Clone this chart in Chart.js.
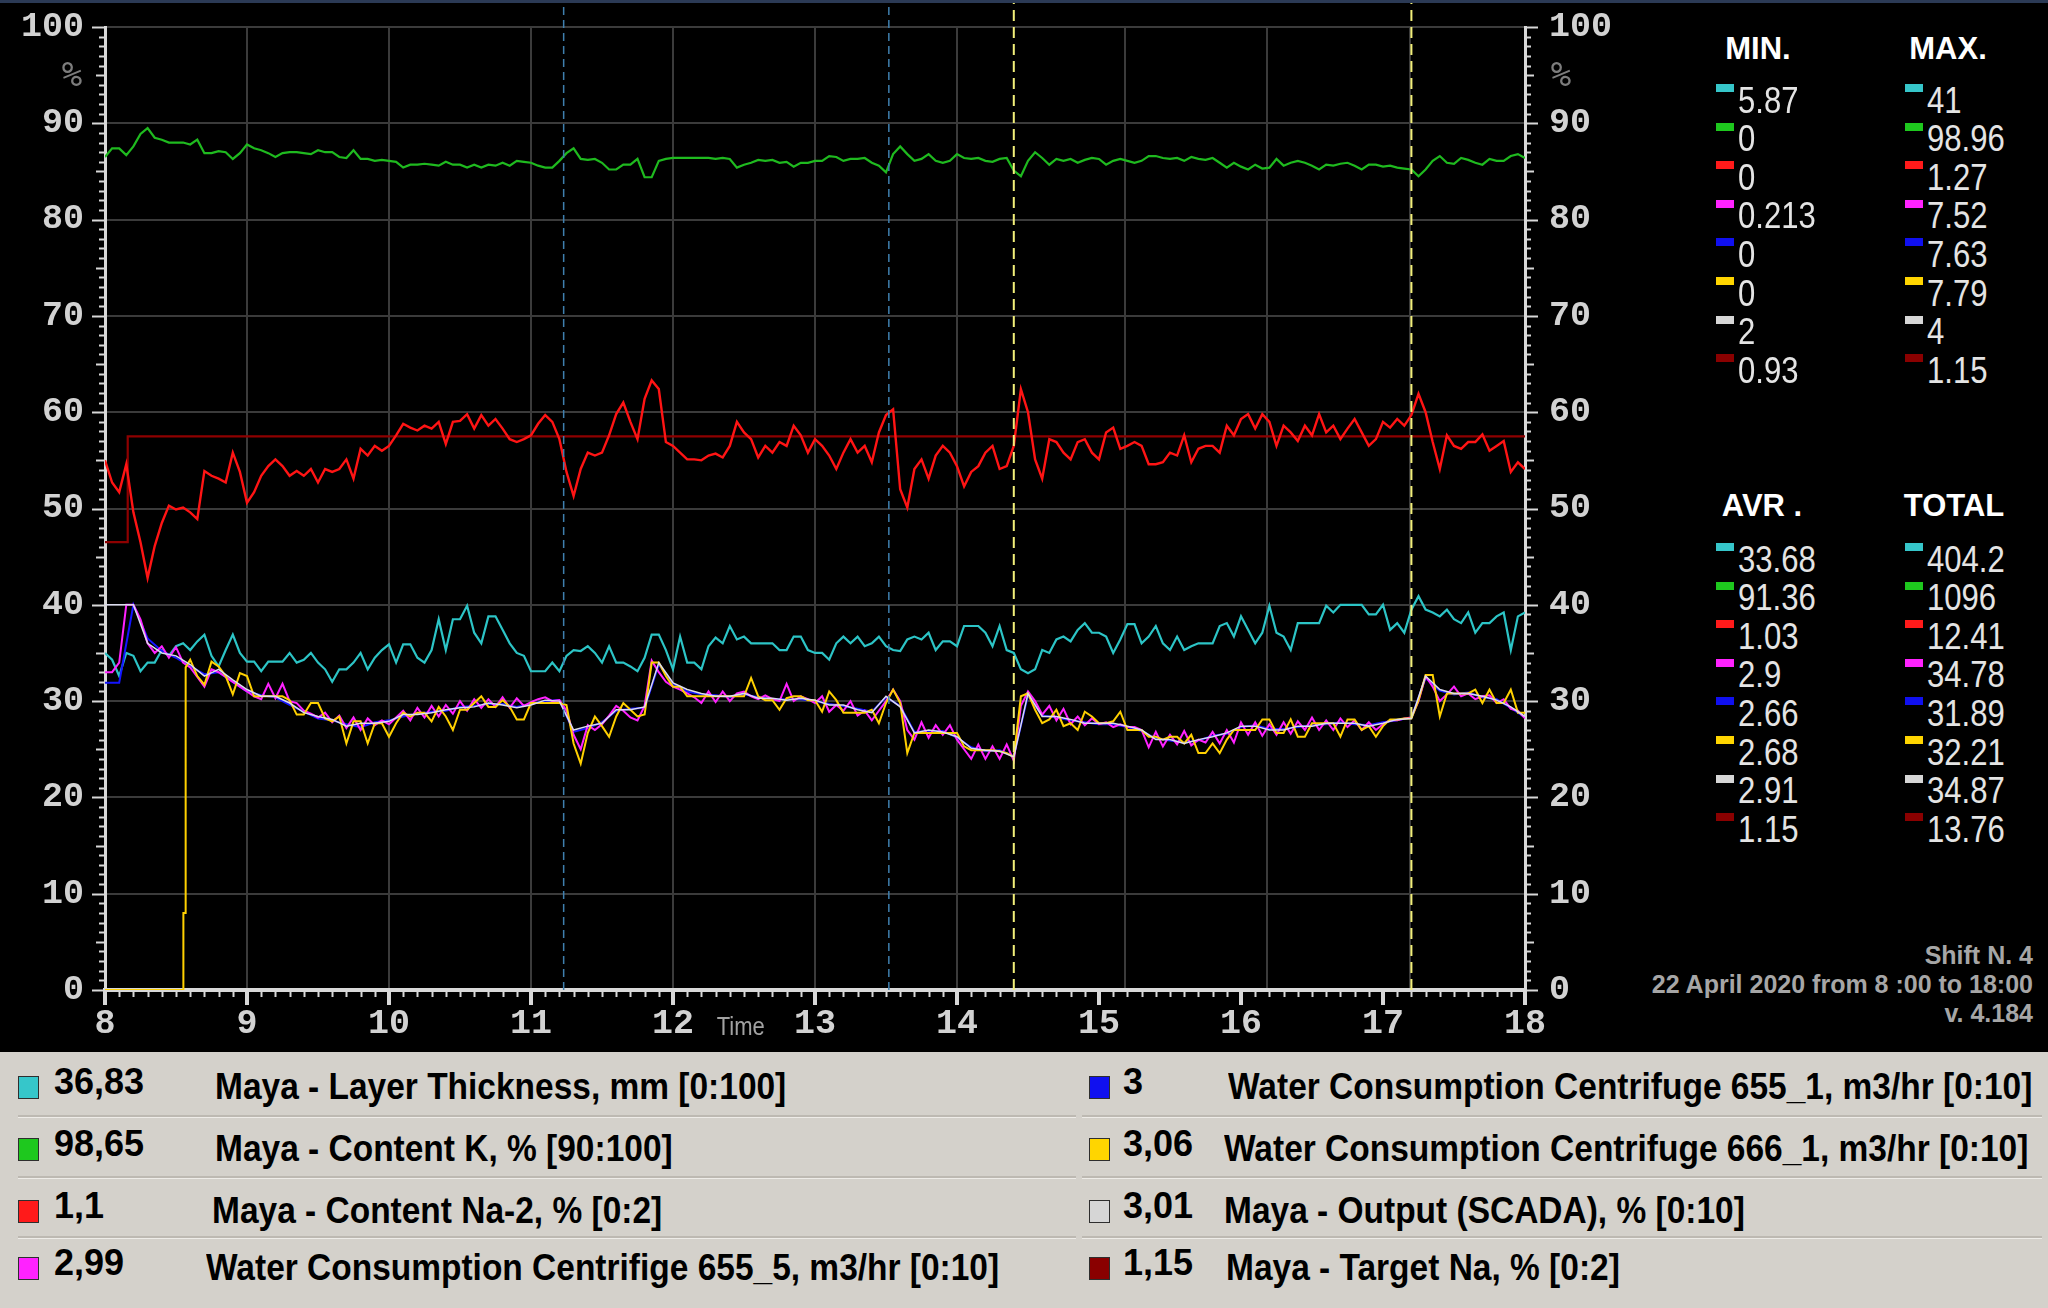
<!DOCTYPE html>
<html>
<head>
<meta charset="utf-8">
<title>Maya - Shift N. 4 trend</title>
<script src="https://cdn.jsdelivr.net/npm/chart.js@4.4.1/dist/chart.umd.min.js"></script>
<style>
	html, body { margin: 0; padding: 0; background: #000; }
	#page { position: relative; width: 2048px; height: 1308px; overflow: hidden; background: #000; font-family: 'Liberation Sans', Arial, sans-serif; }
	#topline { position: absolute; left: 0; top: 0; width: 2048px; height: 3px; background: #2b3a55; }
	#trend { position: absolute; left: 0; top: 0; }
	#legend { position: absolute; left: 0; top: 1052px; width: 2048px; height: 256px; background: #d4d1cb; }
	.txt { position: absolute; white-space: nowrap; line-height: 1; }
	.box { position: absolute; box-sizing: border-box; }
	.sep { position: absolute; height: 2px; background: #bdb9b2; border-bottom: 1px solid #eeece8; }
</style>
</head>
<body>
<div id="page">
	<canvas id="trend" width="1640" height="1052"></canvas>
	<div id="topline"></div>
	<div id="legend"></div>
</div>
<script>
// Series order: layer, K, Na-2, 655_5, 655_1, 666_1, output, target Na
const seriesLabels = [
	'Maya - Layer Thickness, mm [0:100]',
	'Maya - Content K, % [90:100]',
	'Maya - Content Na-2, % [0:2]',
	'Water Consumption Centrifige 655_5, m3/hr [0:10]',
	'Water Consumption Centrifuge 655_1, m3/hr [0:10]',
	'Water Consumption Centrifuge 666_1, m3/hr [0:10]',
	'Maya - Output (SCADA), % [0:10]',
	'Maya - Target Na, % [0:2]'
];
const currentValues = ['36,83', '98,65', '1,1', '2,99', '3', '3,06', '3,01', '1,15'];
const statsMin = ['5.87', '0', '0', '0.213', '0', '0', '2', '0.93'];
const statsMax = ['41', '98.96', '1.27', '7.52', '7.63', '7.79', '4', '1.15'];
const statsAvr = ['33.68', '91.36', '1.03', '2.9', '2.66', '2.68', '2.91', '1.15'];
const statsTotal = ['404.2', '1096', '12.41', '34.78', '31.89', '32.21', '34.87', '13.76'];

const hourTicks = [8, 9, 10, 11, 12, 13, 14, 15, 16, 17, 18];
const gridHours = [9, 10, 11, 12, 13, 14, 15.18, 16.18, 17.19];
const markerHours = [11.23, 13.52, 14.4, 17.2];

// samples every 3 minutes (0.05 h), 8:00 .. 18:00
const hours = Array.from({ length: 201 }, (_, i) => +(8 + i * 0.05).toFixed(2));
// samples every 6 minutes (0.1 h)
const hoursCoarse = Array.from({ length: 101 }, (_, i) => +(8 + i * 0.1).toFixed(1));

const layerThickness = [
	35.0, 34.3, 32.6, 35.0, 34.7, 33.1, 34.0, 34.0, 35.3, 34.7, 35.7, 36.0, 35.3, 36.2, 36.9, 34.7, 33.6, 35.3, 36.9, 35.0,
	34.1, 34.1, 33.1, 34.1, 34.1, 34.1, 35.0, 34.0, 34.3, 35.0, 34.0, 33.3, 32.0, 33.3, 33.3, 34.0, 35.0, 33.3, 34.5, 35.3,
	35.9, 34.0, 35.9, 35.9, 34.5, 34.0, 35.3, 38.5, 35.3, 38.5, 38.5, 39.9, 37.1, 36.0, 38.8, 38.8, 37.4, 36.0, 35.0, 34.7,
	33.1, 33.1, 33.1, 34.0, 33.1, 34.7, 35.3, 35.2, 35.7, 35.0, 34.0, 35.7, 34.0, 34.0, 33.6, 33.1, 34.5, 36.9, 36.9, 35.3,
	33.3, 36.7, 34.0, 34.0, 33.3, 35.7, 36.6, 36.0, 37.8, 36.4, 36.7, 36.0, 36.0, 36.0, 36.0, 35.3, 35.3, 36.7, 36.7, 35.3,
	35.0, 35.0, 34.3, 36.0, 36.7, 36.0, 36.7, 35.7, 36.0, 36.7, 35.7, 35.3, 35.2, 36.4, 36.7, 36.4, 37.1, 35.3, 36.2, 36.2,
	35.7, 37.8, 37.8, 37.8, 37.1, 35.7, 37.8, 35.3, 35.0, 33.3, 32.9, 33.3, 35.3, 35.0, 36.4, 36.7, 36.2, 37.4, 38.1, 37.1,
	37.1, 36.7, 35.0, 36.4, 38.0, 38.0, 36.0, 36.7, 37.8, 36.0, 35.3, 36.7, 35.3, 35.7, 36.0, 36.0, 36.0, 37.8, 38.1, 36.7,
	38.8, 37.4, 36.0, 37.1, 39.9, 37.1, 36.7, 35.3, 38.1, 38.1, 38.1, 38.1, 39.9, 39.2, 40.0, 40.0, 40.0, 40.0, 39.0, 39.0,
	40.0, 37.4, 38.1, 37.1, 39.5, 40.9, 39.5, 39.2, 38.8, 39.5, 38.5, 38.1, 39.2, 37.1, 38.1, 38.1, 38.8, 39.2, 35.3, 38.8,
	39.2
];

const contentK = [
	86.5, 87.4, 87.4, 86.7, 87.6, 88.9, 89.5, 88.5, 88.3, 88.0, 88.0, 88.0, 87.8, 88.3, 86.9, 86.9, 87.1, 87.0, 86.3, 86.9,
	87.8, 87.4, 87.2, 86.9, 86.5, 86.9, 87.0, 87.0, 86.9, 86.8, 87.2, 87.0, 87.0, 86.5, 86.4, 87.2, 86.3, 86.3, 86.1, 86.2,
	86.1, 86.0, 85.4, 85.7, 85.7, 85.8, 85.7, 85.6, 86.0, 85.7, 85.7, 85.4, 85.7, 85.4, 85.7, 85.6, 85.9, 85.6, 86.1, 86.0,
	85.9, 85.6, 85.4, 85.4, 86.1, 86.9, 87.4, 86.3, 86.2, 86.3, 85.9, 85.2, 85.2, 85.7, 85.7, 86.3, 84.4, 84.4, 86.1, 86.3,
	86.4, 86.4, 86.4, 86.4, 86.4, 86.4, 86.3, 86.4, 86.3, 85.4, 85.7, 85.9, 86.2, 86.1, 86.2, 85.9, 86.0, 85.5, 85.9, 85.9,
	86.1, 86.1, 86.6, 86.5, 86.1, 86.3, 86.3, 86.4, 85.9, 85.6, 84.9, 86.8, 87.6, 86.8, 86.1, 86.3, 86.8, 86.1, 85.9, 86.1,
	86.8, 86.4, 86.3, 86.4, 86.1, 86.0, 86.3, 86.4, 85.1, 84.5, 86.1, 87.0, 86.4, 85.7, 86.3, 86.1, 86.3, 85.9, 86.2, 86.4,
	86.3, 85.7, 86.1, 86.3, 86.1, 85.9, 86.1, 86.6, 86.6, 86.4, 86.3, 86.4, 86.1, 86.5, 86.3, 86.2, 86.4, 85.9, 85.4, 85.9,
	85.5, 85.2, 85.7, 85.3, 85.4, 86.3, 85.6, 85.9, 86.1, 85.9, 85.6, 85.2, 85.7, 85.6, 85.8, 85.9, 85.6, 85.2, 85.7, 85.7,
	85.5, 85.6, 85.4, 85.3, 85.2, 84.5, 85.2, 86.1, 86.6, 85.9, 85.8, 86.4, 86.2, 85.9, 85.7, 86.3, 86.1, 86.1, 86.6, 86.8,
	86.4
];

const contentNa = [
	55.0, 52.7, 51.7, 54.6, 49.6, 46.5, 42.8, 46.1, 48.5, 50.3, 49.9, 50.1, 49.6, 48.9, 53.9, 53.4, 53.1, 52.7, 55.8, 53.8,
	50.6, 51.7, 53.4, 54.4, 55.1, 54.4, 53.4, 53.9, 53.4, 54.1, 52.7, 54.1, 53.8, 54.1, 55.1, 53.1, 56.2, 55.5, 56.5, 56.0,
	56.5, 57.6, 58.8, 58.4, 58.1, 58.6, 58.3, 59.0, 56.7, 59.0, 59.1, 59.8, 58.3, 59.7, 58.6, 59.3, 58.3, 57.2, 56.9, 57.2,
	57.6, 58.8, 59.7, 59.0, 57.2, 53.8, 51.3, 54.1, 55.8, 55.5, 55.8, 57.6, 59.8, 61.0, 59.0, 57.2, 61.4, 63.3, 62.4, 56.9,
	56.5, 55.8, 55.1, 55.1, 55.0, 55.5, 55.7, 55.3, 56.5, 59.0, 57.9, 57.2, 55.3, 56.5, 55.8, 56.9, 56.5, 58.6, 57.6, 55.8,
	57.2, 56.5, 55.5, 54.1, 55.8, 57.2, 55.8, 56.5, 54.8, 57.9, 59.7, 60.3, 52.0, 50.1, 54.1, 55.1, 53.1, 55.5, 56.5, 55.8,
	54.4, 52.3, 53.8, 54.4, 55.8, 56.5, 54.1, 54.4, 56.5, 62.4, 60.0, 55.1, 53.1, 57.2, 56.9, 55.8, 55.1, 56.9, 57.2, 55.8,
	55.1, 57.9, 58.4, 56.2, 56.5, 56.9, 56.5, 54.6, 54.6, 54.8, 55.8, 55.5, 57.6, 54.8, 56.2, 56.5, 56.5, 55.8, 58.6, 57.6,
	59.3, 59.8, 58.3, 59.8, 59.0, 56.5, 58.6, 57.9, 57.0, 58.6, 57.6, 59.8, 57.9, 58.6, 57.2, 58.3, 59.3, 57.9, 56.5, 57.2,
	59.0, 58.4, 59.3, 58.6, 59.7, 61.9, 60.0, 56.9, 54.1, 57.6, 56.5, 56.2, 56.9, 56.9, 57.7, 56.0, 56.5, 57.0, 53.8, 54.8,
	54.1
];

const water6555 = [
	33.0, 33.0, 34.0, 40.0, 40.0, 38.5, 36.0, 35.0, 35.7, 34.5, 35.6, 34.0, 33.5, 32.5, 31.5, 33.3, 33.0, 32.5, 32.0, 31.5,
	31.0, 30.5, 30.2, 31.8, 30.3, 31.8, 30.0, 29.8, 29.0, 28.7, 28.3, 28.8, 27.8, 28.5, 27.2, 28.3, 27.0, 28.2, 27.5, 28.0,
	27.6, 28.3, 29.0, 28.0, 29.3, 28.3, 29.5, 28.4, 29.6, 28.7, 30.0, 29.0, 30.2, 29.3, 30.2, 29.4, 30.4, 29.3, 30.3, 29.5,
	29.9, 30.2, 30.4, 30.0, 30.1, 29.0, 26.5, 25.0, 27.5, 27.0, 27.6, 28.5, 29.5, 29.0, 28.3, 28.0, 29.5, 34.2, 33.0, 32.0,
	31.5, 31.2, 30.8, 30.4, 29.8, 31.0, 29.9, 31.0, 30.0, 30.8, 31.0, 30.5, 30.2, 30.6, 30.2, 30.0, 31.8, 30.0, 30.5, 30.2,
	29.8, 30.5, 28.9, 29.6, 29.0, 30.0, 28.5, 29.0, 28.0, 29.0, 30.0, 31.2, 30.0, 27.0, 26.0, 27.8, 26.2, 27.5, 26.5, 27.5,
	26.0, 25.0, 24.0, 25.5, 24.0, 25.3, 24.0, 25.5, 23.8, 29.5, 31.0, 30.0, 28.6, 29.5, 28.0, 29.2, 27.6, 28.4, 27.5, 28.2,
	27.6, 27.8, 27.3, 27.6, 27.3, 27.3, 27.0, 25.2, 26.8, 25.3, 26.5, 25.5, 26.9, 25.4, 26.0, 25.7, 26.8, 25.6, 27.0, 25.7,
	27.8, 26.5, 27.8, 26.4, 27.6, 26.5, 27.8, 26.6, 27.9, 27.0, 28.3, 27.0, 28.0, 27.0, 28.2, 27.3, 28.0, 27.0, 27.8, 27.0,
	27.6, 28.0, 28.0, 28.2, 28.3, 30.0, 32.6, 31.5, 30.0, 30.7, 31.5, 30.5, 30.8, 30.2, 30.5, 30.6, 29.8, 30.2, 29.2, 29.0,
	28.2
];

// 8:33 gap (null) is filled by the start-up jump below
const water6661 = [
	0, 0, 0, 0, 0, 0, 0, 0, 0, 0, 0, null, 34.3, 32.6, 31.7, 34.1, 33.6, 32.6, 30.7, 32.9,
	32.6, 30.5, 30.5, 30.5, 30.5, 30.5, 30.1, 28.6, 28.6, 29.8, 29.8, 28.2, 27.9, 28.4, 25.6, 27.9, 27.9, 25.6, 27.7, 27.7,
	26.3, 27.7, 28.8, 28.4, 28.8, 28.8, 27.9, 29.4, 28.4, 27.0, 29.1, 29.1, 29.8, 30.5, 29.4, 29.4, 30.1, 29.4, 28.1, 28.1,
	29.8, 29.8, 29.8, 29.8, 29.8, 29.6, 25.6, 23.5, 26.7, 28.4, 27.4, 26.3, 28.4, 29.8, 29.1, 28.4, 28.6, 34.0, 34.0, 32.6,
	31.5, 31.5, 30.5, 30.5, 30.5, 30.5, 30.5, 30.5, 30.5, 30.5, 30.5, 32.4, 30.5, 30.1, 30.1, 29.1, 30.3, 30.5, 30.5, 30.1,
	30.1, 28.9, 31.0, 30.1, 28.8, 28.8, 28.8, 28.8, 29.1, 27.7, 29.8, 31.2, 29.8, 24.6, 26.7, 26.7, 26.7, 26.7, 26.7, 26.7,
	26.7, 25.3, 24.9, 24.9, 24.9, 24.9, 24.8, 24.6, 24.2, 30.5, 30.8, 29.1, 27.7, 28.1, 29.1, 27.4, 27.7, 27.0, 28.9, 28.4,
	27.7, 27.7, 27.9, 28.9, 27.0, 27.0, 27.0, 26.3, 26.3, 26.0, 26.3, 26.3, 25.6, 26.5, 24.6, 24.6, 25.6, 24.6, 26.0, 27.0,
	27.0, 27.0, 27.0, 28.1, 28.1, 26.7, 26.7, 28.1, 26.3, 26.3, 27.7, 27.7, 27.7, 27.7, 26.3, 28.1, 28.1, 27.0, 27.4, 26.3,
	27.4, 28.1, 28.1, 28.2, 28.2, 30.1, 32.7, 32.7, 28.4, 30.8, 30.8, 30.8, 30.8, 31.2, 29.8, 31.2, 29.8, 29.8, 31.2, 28.8,
	28.8
];
const water6661JumpHours = [8.55, 8.552, 8.566, 8.568];
const water6661JumpValues = [0, 8, 8, 33.5];

const water6551 = [
	31.9, 31.9, 40.0, 36.5, 35.2, 34.5, 33.6, 32.8, 33.0, 32.0,
	31.0, 30.6, 30.4, 29.6, 28.9, 28.2, 28.0, 27.6, 27.3, 27.8,
	28.0, 28.4, 28.7, 28.9, 29.0, 29.4, 29.5, 29.7, 29.7, 29.4,
	29.7, 30.0, 30.1, 26.8, 27.2, 27.8, 29.0, 29.2, 29.3, 33.8,
	31.8, 31.0, 30.7, 30.6, 30.4, 30.7, 30.4, 30.2, 30.2, 30.2,
	30.0, 29.7, 29.5, 29.2, 28.9, 30.4, 29.5, 26.8, 26.9, 26.9,
	26.2, 25.2, 24.8, 24.9, 24.3, 30.6, 28.5, 28.3, 28.0, 27.8,
	27.6, 27.6, 27.3, 26.9, 26.1, 25.9, 25.7, 25.9, 26.4, 26.6,
	27.3, 27.5, 27.1, 27.1, 27.3, 27.5, 27.6, 27.8, 27.6, 27.5,
	27.8, 28.0, 28.3, 32.4, 31.1, 30.7, 30.9, 30.4, 30.2, 29.3,
	28.3
];

const outputScada = [
	40.0, 40.0, 40.0, 36.0, 35.0, 34.7, 33.8, 32.6, 33.3, 32.2,
	31.2, 30.5, 30.5, 29.8, 28.8, 28.4, 28.1, 27.4, 27.7, 27.7,
	27.9, 28.6, 28.6, 28.8, 29.1, 29.3, 29.4, 29.8, 29.6, 29.3,
	29.6, 30.1, 30.0, 27.0, 27.4, 27.7, 29.1, 29.1, 29.4, 34.0,
	31.9, 31.2, 30.8, 30.5, 30.5, 30.8, 30.3, 30.3, 30.1, 30.3,
	30.1, 29.6, 29.6, 29.1, 28.8, 30.5, 29.4, 26.7, 27.0, 26.8,
	26.3, 25.1, 24.9, 24.8, 24.2, 30.8, 28.4, 28.4, 28.1, 27.7,
	27.7, 27.7, 27.4, 27.0, 26.0, 26.0, 25.6, 26.0, 26.3, 26.7,
	27.4, 27.4, 27.0, 27.0, 27.4, 27.4, 27.7, 27.7, 27.7, 27.4,
	27.7, 28.1, 28.2, 32.6, 31.2, 30.8, 30.8, 30.5, 30.1, 29.4,
	28.4
];

const targetNaHours = [8.0, 8.16, 18.0];
const targetNa = [46.5, 57.5, 57.5];

// ---- styles ----
const seriesColors = ['#2cc4c6', '#1fba1f', '#ff1414', '#ff22ff', '#1414ff', '#ffd000', '#dcdcee', '#8e0000'];
const legendSwatch = ['#36c6ca', '#1ec81e', '#ff1a1a', '#ff22ff', '#1010f0', '#ffd500', '#d6d6d6', '#8a0000'];
const markerColors = ['#3f7fae', '#3f7fae', '#f2ef7a', '#f2ef7a'];

function toPoints(xs, ys) {
	return xs.map((x, i) => ({ x, y: ys[i] })).filter((p) => p.y !== null);
}

const tickFont = { family: "'Liberation Mono', 'DejaVu Sans Mono', monospace", weight: 'bold', size: 35 };
const tickColor = '#d2d2d2';

// event markers run from the axis up to the top edge of the panel
const markerSets = markerHours.map((h, i) => ({
	data: [{ x: h, y: 0 }, { x: h, y: 102.5 }],
	borderColor: markerColors[i],
	borderWidth: i < 2 ? 1.5 : 2,
	borderDash: i < 2 ? [8, 5] : [11, 6],
	clip: false
}));

const lineSet = (data, color, width, extra) => Object.assign({
	data,
	borderColor: color,
	borderWidth: width
}, extra || {});

const water6661Points = toPoints(hours, water6661)
	.concat(toPoints(water6661JumpHours, water6661JumpValues))
	.sort((a, b) => a.x - b.x);

// first dataset is drawn on top
const datasets = markerSets.concat([
	lineSet(toPoints(hoursCoarse, outputScada), seriesColors[6], 1.5),
	lineSet(water6661Points, seriesColors[5], 2),
	lineSet(toPoints(hours, water6555), seriesColors[3], 2),
	lineSet(toPoints(hoursCoarse, water6551), seriesColors[4], 2),
	lineSet(toPoints(hours, layerThickness), seriesColors[0], 2.2),
	lineSet(toPoints(hours, contentK), seriesColors[1], 2.2),
	lineSet(toPoints(hours, contentNa), seriesColors[2], 2.4),
	lineSet(toPoints(targetNaHours, targetNa), seriesColors[7], 2.2, { stepped: true })
]);

// ruler ticks along the axes
const rulerTicks = {
	id: 'rulerTicks',
	afterDraw(chart) {
		const { ctx, scales: { x, y } } = chart;
		ctx.save();
		ctx.strokeStyle = '#d8d8d8';
		ctx.lineWidth = 2;
		ctx.beginPath();
		for (let v = 0; v <= 100; v++) {
			const py = Math.round(y.getPixelForValue(v)) + 0.5;
			const len = v % 10 === 0 ? 12 : (v % 5 === 0 ? 8 : 5);
			ctx.moveTo(x.left - 1, py);
			ctx.lineTo(x.left - 1 - len, py);
			ctx.moveTo(x.right + 1, py);
			ctx.lineTo(x.right + 1 + len, py);
		}
		for (let i = 0; i <= 100; i++) {
			const px = Math.round(x.getPixelForValue(8 + i / 10)) + 0.5;
			const len = i % 10 === 0 ? 14 : 6;
			ctx.moveTo(px, y.bottom + 1);
			ctx.lineTo(px, y.bottom + 1 + len);
		}
		ctx.stroke();
		ctx.lineWidth = 4;
		ctx.beginPath();
		hourTicks.forEach((h) => {
			const px = x.getPixelForValue(h);
			ctx.moveTo(px, y.bottom);
			ctx.lineTo(px, y.bottom + 15);
		});
		ctx.stroke();
		ctx.restore();
	}
};

// vertical axes keep a fixed width and add no label overhang to the layout
const fixVertical = (width) => (scale) => {
	scale.width = width;
	scale.paddingTop = 0;
	scale.paddingBottom = 0;
};

new Chart(document.getElementById('trend').getContext('2d'), {
	type: 'line',
	data: { datasets },
	options: {
		responsive: false,
		animation: false,
		devicePixelRatio: 1,
		layout: { padding: { top: 27, left: 0, right: 0, bottom: 0 } },
		elements: {
			point: { radius: 0, hoverRadius: 0 },
			line: { tension: 0, fill: false }
		},
		plugins: {
			legend: { display: false },
			tooltip: { enabled: false }
		},
		scales: {
			x: {
				type: 'linear',
				min: 8,
				max: 18,
				position: 'bottom',
				afterBuildTicks(scale) { scale.ticks = hourTicks.map((v) => ({ value: v })); },
				ticks: { color: tickColor, font: tickFont, padding: 13, maxRotation: 0, autoSkip: false, callback: (v) => String(v) },
				grid: { display: false, drawTicks: false },
				border: { display: true, color: '#d8d8d8', width: 4 },
				afterFit(scale) {
					scale.height = 62;
					scale.paddingLeft = 0;
					scale.paddingRight = 0;
				}
			},
			xGrid: {
				type: 'linear',
				min: 8,
				max: 18,
				position: 'bottom',
				afterBuildTicks(scale) { scale.ticks = gridHours.map((v) => ({ value: v })); },
				ticks: { display: false },
				grid: { color: '#3b3b3b', lineWidth: 2, drawTicks: false },
				border: { display: false },
				afterFit(scale) { scale.height = 0; }
			},
			y: {
				min: 0,
				max: 100,
				position: 'left',
				ticks: { stepSize: 10, color: tickColor, font: tickFont, padding: 21 },
				grid: { color: '#3b3b3b', lineWidth: 2, drawTicks: false },
				border: { display: true, color: '#d8d8d8', width: 3 },
				afterFit: fixVertical(105)
			},
			y2: {
				min: 0,
				max: 100,
				position: 'right',
				ticks: { stepSize: 10, color: tickColor, font: tickFont, padding: 24 },
				grid: { display: false, drawTicks: false },
				border: { display: true, color: '#d8d8d8', width: 3 },
				afterFit: fixVertical(115)
			}
		}
	},
	plugins: [rulerTicks]
});

// ---- HTML text panels ----
const page = document.getElementById('page');
const legend = document.getElementById('legend');

function addText(parent, text, x, yc, o) {
	const el = document.createElement('div');
	el.className = 'txt';
	el.textContent = text;
	el.style.fontSize = o.size + 'px';
	el.style.fontWeight = o.weight || 'normal';
	el.style.color = o.color;
	if (o.family) el.style.fontFamily = o.family;
	el.style.top = (yc - o.size / 2) + 'px';
	const sx = o.scale || 1;
	if (o.align === 'right') {
		el.style.right = (2048 - x) + 'px';
		el.style.transformOrigin = 'right center';
		el.style.transform = 'scaleX(' + sx + ')';
	} else if (o.align === 'center') {
		el.style.left = x + 'px';
		el.style.transformOrigin = 'left center';
		el.style.transform = 'translateX(-50%) scaleX(' + sx + ')';
	} else {
		el.style.left = x + 'px';
		el.style.transformOrigin = 'left center';
		el.style.transform = 'scaleX(' + sx + ')';
	}
	parent.appendChild(el);
	return el;
}

function addBox(parent, x, y, w, h, color, border) {
	const el = document.createElement('div');
	el.className = 'box';
	Object.assign(el.style, { left: x + 'px', top: y + 'px', width: w + 'px', height: h + 'px', background: color });
	if (border) el.style.border = border;
	parent.appendChild(el);
	return el;
}

// axis unit marks and the "Time" caption
addText(page, '%', 72, 74, { size: 34, color: '#7d7d7d', family: "'DejaVu Sans Mono', monospace", align: 'center' });
addText(page, '%', 1561, 74, { size: 34, color: '#7d7d7d', family: "'DejaVu Sans Mono', monospace", align: 'center' });
addText(page, 'Time', 744, 1026, { size: 25, color: '#a2a2a2', align: 'center', scale: 0.88 });

// statistics block
const headFont = { size: 31, weight: 'bold', color: '#ffffff', align: 'center' };
addText(page, 'MIN.', 1758, 48, headFont);
addText(page, 'MAX.', 1948, 48, headFont);
addText(page, 'AVR .', 1762, 505, headFont);
addText(page, 'TOTAL', 1954, 505, headFont);

function statColumn(values, markX, firstY) {
	values.forEach((v, i) => {
		const yc = firstY + i * 38.6;
		addBox(page, markX, yc - 15, 18, 8, legendSwatch[i]);
		addText(page, v, markX + 22, yc + 1, { size: 37, color: '#e4e4e4', scale: 0.84 });
	});
}
statColumn(statsMin, 1716, 99);
statColumn(statsMax, 1905, 99);
statColumn(statsAvr, 1716, 558);
statColumn(statsTotal, 1905, 558);

const footFont = { size: 25, weight: 'bold', color: '#a6a6a6', align: 'right' };
addText(page, 'Shift N. 4', 2033, 955, footFont);
addText(page, '22 April 2020 from 8 :00 to 18:00', 2033, 984, footFont);
addText(page, 'v. 4.184', 2033, 1013, footFont);

// legend rows (coordinates relative to the legend panel, top = 1052)
const rowY = [35, 97, 159, 216];
const leftLabelX = [215, 215, 212, 206];
const rightLabelX = [1228, 1224, 1224, 1226];
[63, 124, 184].forEach((y) => {
	const a = document.createElement('div');
	a.className = 'sep';
	Object.assign(a.style, { left: '18px', top: y + 'px', width: '1058px' });
	legend.appendChild(a);
	const b = document.createElement('div');
	b.className = 'sep';
	Object.assign(b.style, { left: '1082px', top: y + 'px', width: '960px' });
	legend.appendChild(b);
});

seriesLabels.forEach((label, i) => {
	const right = i >= 4;
	const r = i % 4;
	const yc = rowY[r];
	const boxX = right ? 1089 : 18;
	addBox(legend, boxX, yc - 11, 21, 23, legendSwatch[i], '1.5px solid #2e2e2e');
	addText(legend, currentValues[i], right ? 1123 : 54, yc - 5, { size: 36, weight: 'bold', color: '#000' });
	addText(legend, label, right ? rightLabelX[r] : leftLabelX[r], yc, { size: 36, weight: 'bold', color: '#000', scale: 0.93 });
});
</script>
</body>
</html>
